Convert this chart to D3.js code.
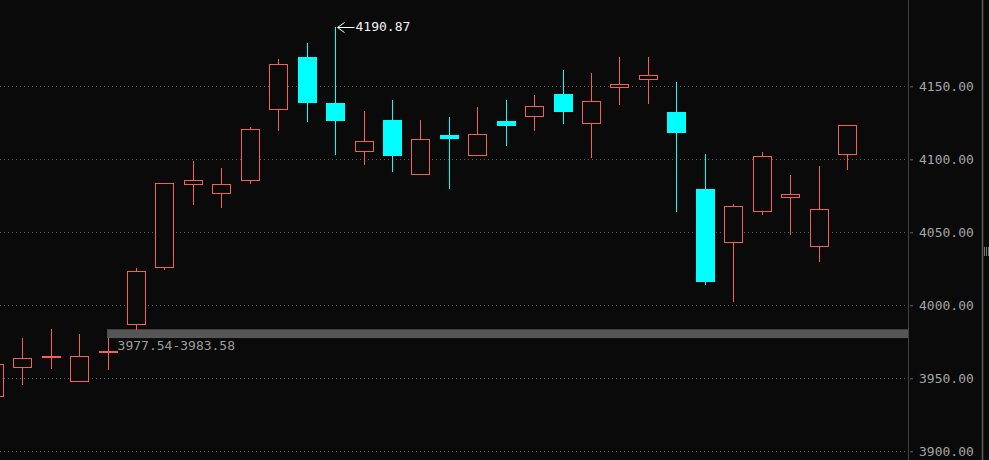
<!DOCTYPE html>
<html>
<head>
<meta charset="utf-8">
<script src="https://cdn.jsdelivr.net/npm/d3@7"></script>
<style>
  html, body { margin: 0; padding: 0; background: #0a0a0a; overflow: hidden; }
  svg { display: block; }
</style>
</head>
<body>
<div id="chart"></div>
<script>
// ---- data (candle index -1 is the partly visible one at the left edge) ----
const indices = [-1,0,1,2,3,4,5,6,7,8,9,10,11,12,13,14,15,16,17,18,19,20,21,22,23,24,25,26,27,28,29];
const opens  = [3937.9,3957.5,3964.4,3947.9,3968.7,3987.0,4026.0,4083.3,4077.1,4086.0,4134.7,4170.1,4138.6,4105.9,4126.9,4090.1,4116.6,4103.2,4126.2,4129.9,4144.9,4125.1,4149.7,4155.2,4132.4,4079.7,4043.6,4064.4,4074.4,4040.4,4103.4];
const highs  = [3961.0,3977.4,3983.6,3980.3,3977.54,4025.3,4083.8,4098.8,4094.0,4122.3,4168.5,4179.9,4190.87,4133.1,4140.6,4126.9,4129.0,4135.8,4140.6,4144.0,4161.2,4159.1,4170.1,4170.1,4152.7,4103.6,4069.4,4105.0,4089.2,4095.4,4123.5];
const lows   = [3936.0,3945.9,3957.3,3947.9,3956.2,3983.58,4025.1,4069.4,4067.3,4084.0,4120.1,4126.4,4103.6,4096.8,4092.2,4090.1,4080.5,4103.2,4110.0,4120.1,4125.1,4101.8,4138.1,4138.8,4064.8,4014.4,4003.2,4062.7,4049.0,4030.5,4093.6];
const closes = [3959.6,3963.7,3965.3,3965.1,3968.7,4023.5,4083.8,4085.8,4083.1,4120.8,4165.3,4138.8,4126.2,4112.5,4102.3,4113.9,4113.9,4117.3,4123.0,4136.5,4132.4,4139.9,4151.8,4157.9,4118.2,4016.2,4068.0,4102.1,4076.0,4066.0,4123.5];
const yTicks = [3900, 3950, 4000, 4050, 4100, 4150];
const maxLabel = "4190.87";
const maxIndex = 12;          // position in arrays (candle #11)
const gapLow = 3977.54, gapHigh = 3983.58, gapFromIndex = 4;  // candle #3
const gapLabel = "3977.54-3983.58";

// ---- layout ----
const W = 989, H = 460;
const axisX = 908, rightEdge = 982;
const UP = "#f26058", DOWN = "#00ffff";

const svg = d3.select("#chart").append("svg").attr("width", W).attr("height", H)
  .style("background", "#0a0a0a");

const x = d3.scaleLinear().domain([0, 29]).range([22.3, 847]);
const y = d3.scaleLinear().domain([3900, 4150]).range([451.3, 86.3]);

// grid
svg.append("g").selectAll("line").data(yTicks).join("line")
  .attr("x1", 0).attr("x2", axisX - 2)
  .attr("y1", d => Math.round(y(d)) + 0.5).attr("y2", d => Math.round(y(d)) + 0.5)
  .attr("stroke", "#5a5a5a").attr("stroke-width", 1).attr("stroke-dasharray", "1,3");

// gap band
svg.append("rect")
  .attr("x", x(indices[gapFromIndex]) - 0.5)
  .attr("y", y(gapHigh))
  .attr("width", axisX - x(indices[gapFromIndex]) + 0.5)
  .attr("height", y(gapLow) - y(gapHigh))
  .attr("fill", "#565656");
svg.append("text")
  .attr("x", x(indices[gapFromIndex]) + 10)
  .attr("y", y(gapLow) + 8)
  .attr("font-family", "'DejaVu Sans Mono', monospace").attr("font-size", 13)
  .attr("fill", "#9c9c9c").attr("dominant-baseline", "middle")
  .text(gapLabel);

// candles
const data = indices.map((d, i) => ({ i: d, o: opens[i], h: highs[i], l: lows[i], c: closes[i] }));
const g = svg.append("g").attr("shape-rendering", "crispEdges");
data.forEach(d => {
  const cx = Math.round(x(d.i));
  const up = d.c >= d.o;
  const col = up ? UP : DOWN;
  const top = Math.round(y(Math.max(d.o, d.c))), bot = Math.round(y(Math.min(d.o, d.c)));
  const hy = Math.round(y(d.h)), ly = Math.round(y(d.l));
  // wick
  g.append("rect").attr("x", cx).attr("width", 1)
    .attr("y", hy).attr("height", Math.max(1, ly - hy + 1))
    .attr("fill", col);
  if (up) {
    const hgt = Math.max(1, bot - top);
    // background to hide wick inside body
    g.append("rect").attr("x", cx - 9).attr("width", 19).attr("y", top).attr("height", hgt + 1).attr("fill", "#0a0a0a");
    // outline made of thin filled rects
    g.append("rect").attr("x", cx - 9).attr("width", 19).attr("y", top).attr("height", 1).attr("fill", col);
    g.append("rect").attr("x", cx - 9).attr("width", 19).attr("y", top + hgt).attr("height", 1).attr("fill", col);
    g.append("rect").attr("x", cx - 9).attr("width", 1).attr("y", top).attr("height", hgt + 1).attr("fill", col);
    g.append("rect").attr("x", cx + 9).attr("width", 1).attr("y", top).attr("height", hgt + 1).attr("fill", col);
  } else {
    g.append("rect").attr("x", cx - 9).attr("width", 19)
      .attr("y", top).attr("height", Math.max(2, bot - top))
      .attr("fill", col);
  }
});

// max annotation
const mx = Math.round(x(indices[maxIndex])) + 2.5, my = Math.round(y(highs[maxIndex])) + 0.5;
const ann = svg.append("g").attr("stroke", "#ffffff").attr("stroke-width", 1).attr("fill", "none");
ann.append("line").attr("x1", mx).attr("x2", mx + 17).attr("y1", my).attr("y2", my);
ann.append("polyline").attr("points", `${mx + 7},${my - 5} ${mx},${my} ${mx + 7},${my + 5}`);
svg.append("text").attr("x", mx + 18).attr("y", my)
  .attr("font-family", "'DejaVu Sans Mono', monospace").attr("font-size", 13)
  .attr("fill", "#f4f4f4").attr("dominant-baseline", "middle").text(maxLabel);

// right axis
svg.append("line").attr("x1", axisX + 0.5).attr("x2", axisX + 0.5).attr("y1", 0).attr("y2", H)
  .attr("stroke", "#444").attr("stroke-width", 1);
svg.append("line").attr("x1", rightEdge + 0.5).attr("x2", rightEdge + 0.5).attr("y1", 0).attr("y2", H)
  .attr("stroke", "#5c5c5c").attr("stroke-width", 1.5);

const axis = d3.axisRight(y).tickValues(yTicks).tickFormat(d3.format(".2f")).tickSize(3).tickPadding(6);
const ag = svg.append("g").attr("transform", `translate(${axisX + 2},0)`).call(axis);
ag.select(".domain").remove();
ag.selectAll(".tick line").attr("stroke", "#666");
ag.selectAll(".tick text").attr("fill", "#a4a4a4")
  .attr("font-family", "'DejaVu Sans Mono', monospace").attr("font-size", 13);

// small handle icon at right edge
const hg = svg.append("g").attr("fill", "#777");
[0, 2, 4].forEach(k => hg.append("rect").attr("x", 984 + k).attr("y", 247).attr("width", 1).attr("height", 9));
</script>
</body>
</html>
